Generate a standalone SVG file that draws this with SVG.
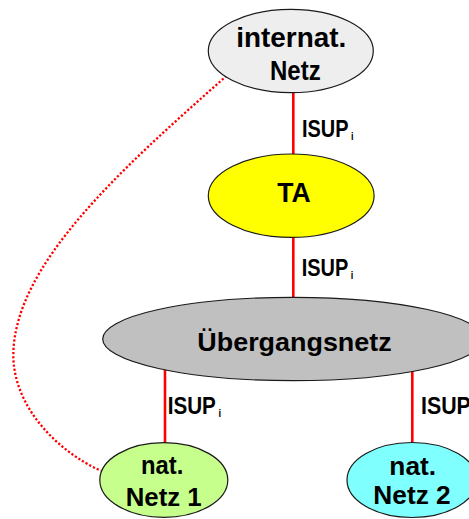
<svg xmlns="http://www.w3.org/2000/svg" width="469" height="519" viewBox="0 0 469 519">
  <style>
    .node { stroke: #1a1a1a; stroke-width: 1.2; }
    .label { font-family: "Liberation Sans", Arial, sans-serif; font-weight: bold; fill: #000; text-anchor: middle; }
    .isup { font-family: "Liberation Sans", Arial, sans-serif; font-weight: bold; fill: #000; font-size: 24px; }
    .sub { font-size: 11px; }
    .link { stroke: #ff0000; stroke-width: 2.6; fill: none; }
    .dotted { stroke: #ff0000; stroke-width: 2.3; fill: none; stroke-dasharray: 2.2 2; }
  </style>

  <rect width="469" height="519" fill="#ffffff"/>

  <!-- connectors -->
  <g id="connectors">
    <line class="link" x1="293.3" y1="92" x2="293.3" y2="155"/>
    <line class="link" x1="293.3" y1="236" x2="293.3" y2="298"/>
    <line class="link" x1="165" y1="368" x2="165" y2="443"/>
    <line class="link" x1="412.3" y1="368" x2="412.3" y2="443"/>
    <path class="dotted" d="M226.7,75.7 C120,170 14,265 13.3,355 C13.3,405 55,450 100.7,470.7"/>
    <text class="isup" transform="translate(302,136.7) scale(0.83,1)">ISUP<tspan class="sub" dx="3" dy="3">i</tspan></text>
    <text class="isup" transform="translate(301.7,275.7) scale(0.83,1)">ISUP<tspan class="sub" dx="3" dy="3">i</tspan></text>
    <text class="isup" transform="translate(167.7,414) scale(0.86,1)">ISUP<tspan class="sub" dx="3" dy="3">i</tspan></text>
    <text class="isup" transform="translate(421,414) scale(0.89,1)">ISUP</text>
  </g>

  <!-- international network -->
  <g id="internat-netz">
    <ellipse class="node" cx="290.8" cy="51" rx="82.5" ry="41.7" fill="#eeeeee"/>
    <text class="label" x="291.3" y="46.7" font-size="28" textLength="110" lengthAdjust="spacingAndGlyphs">internat.</text>
    <text class="label" x="295.3" y="80" font-size="28" textLength="50.7" lengthAdjust="spacingAndGlyphs">Netz</text>
  </g>

  <!-- transit exchange -->
  <g id="ta">
    <ellipse class="node" cx="291.2" cy="195.7" rx="82.9" ry="41.7" fill="#ffff00"/>
    <text class="label" x="294" y="202.3" font-size="28" textLength="33.4" lengthAdjust="spacingAndGlyphs">TA</text>
  </g>

  <!-- gateway network -->
  <g id="uebergangsnetz">
    <ellipse class="node" cx="293" cy="339" rx="190.3" ry="41.7" fill="#c0c0c0"/>
    <text class="label" x="294.5" y="351" font-size="26" textLength="194.4" lengthAdjust="spacingAndGlyphs">Übergangsnetz</text>
  </g>

  <!-- national network 1 -->
  <g id="nat-netz-1">
    <ellipse class="node" cx="163.8" cy="480" rx="64" ry="37.3" fill="#c6ff8c"/>
    <text class="label" x="162.2" y="474" font-size="26" textLength="42.3" lengthAdjust="spacingAndGlyphs">nat.</text>
    <text class="label" x="163.7" y="506" font-size="26" textLength="76" lengthAdjust="spacingAndGlyphs">Netz 1</text>
  </g>

  <!-- national network 2 -->
  <g id="nat-netz-2">
    <ellipse class="node" cx="412" cy="480" rx="65" ry="37.5" fill="#80ffff"/>
    <text class="label" x="412.7" y="475" font-size="26" textLength="46.7" lengthAdjust="spacingAndGlyphs">nat.</text>
    <text class="label" x="412" y="504.3" font-size="26" textLength="77.4" lengthAdjust="spacingAndGlyphs">Netz 2</text>
  </g>
</svg>
